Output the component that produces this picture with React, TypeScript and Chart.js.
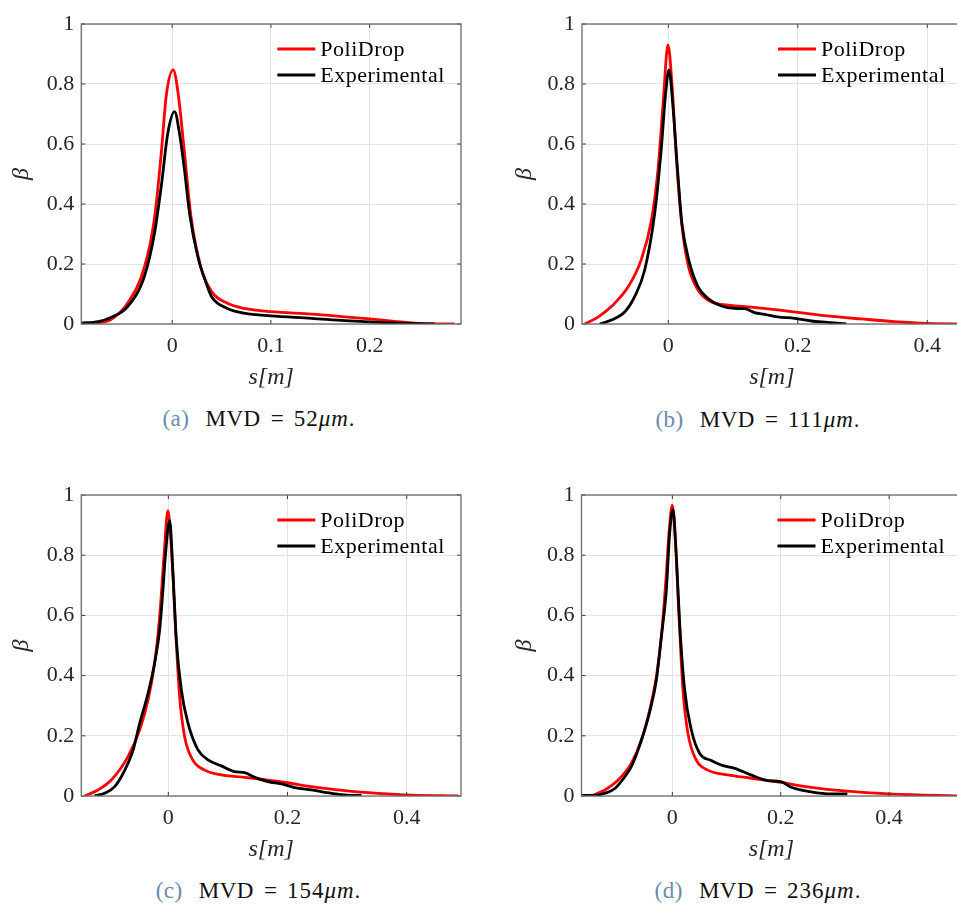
import React, { useEffect, useRef } from "react";
import { Chart, registerables } from "chart.js";

Chart.register(...registerables);

// ---------------- Data ----------------
// Panel (a) MVD = 52 µm
const polidropA_s = [-0.087, -0.075, -0.062, -0.045, -0.028, -0.018, -0.011, -0.006, 0.001, 0.006, 0.0125, 0.019, 0.029, 0.04, 0.056, 0.073, 0.1, 0.141, 0.175, 0.2, 0.225, 0.249, 0.286];
const polidropA_beta = [0, 0.004, 0.015, 0.07, 0.19, 0.35, 0.57, 0.76, 0.847, 0.77, 0.57, 0.36, 0.19, 0.108, 0.069, 0.052, 0.041, 0.033, 0.024, 0.017, 0.009, 0.002, 0];
const experimentalA_s = [-0.092, -0.075, -0.062, -0.045, -0.028, -0.018, -0.011, -0.0044, 0.0024, 0.0074, 0.0125, 0.0176, 0.026, 0.0345, 0.04, 0.056, 0.073, 0.1, 0.141, 0.175, 0.208, 0.242, 0.266];
const experimentalA_beta = [0.003, 0.008, 0.022, 0.058, 0.16, 0.3, 0.46, 0.636, 0.708, 0.636, 0.513, 0.369, 0.224, 0.136, 0.091, 0.052, 0.036, 0.027, 0.019, 0.011, 0.0056, 0.002, 0];

// Panel (b) MVD = 111 µm
const polidropB_s = [-0.129, -0.108, -0.088, -0.062, -0.042, -0.026, -0.016, -0.008, -0.0005, 0.006, 0.012, 0.02, 0.03, 0.046, 0.066, 0.092, 0.128, 0.169, 0.2, 0.246, 0.298, 0.349, 0.4, 0.46];
const polidropB_beta = [0, 0.024, 0.058, 0.124, 0.213, 0.347, 0.513, 0.736, 0.93, 0.79, 0.569, 0.347, 0.202, 0.113, 0.074, 0.063, 0.056, 0.047, 0.039, 0.027, 0.017, 0.008, 0.002, 0];
const experimentalB_s = [-0.106, -0.088, -0.067, -0.052, -0.0365, -0.021, -0.011, -0.0046, 0.001, 0.0072, 0.0139, 0.021, 0.033, 0.046, 0.061, 0.082, 0.102, 0.118, 0.133, 0.149, 0.169, 0.195, 0.221, 0.246, 0.275];
const experimentalB_beta = [0, 0.013, 0.041, 0.091, 0.18, 0.369, 0.58, 0.758, 0.847, 0.724, 0.524, 0.336, 0.202, 0.124, 0.086, 0.06, 0.052, 0.051, 0.038, 0.032, 0.024, 0.019, 0.01, 0.0056, 0];

// Panel (c) MVD = 154 µm
const polidropC_s = [-0.14, -0.118, -0.0957, -0.0677, -0.048, -0.034, -0.023, -0.0145, -0.0073, -0.0006, 0.006, 0.0123, 0.019, 0.0274, 0.041, 0.061, 0.089, 0.128, 0.167, 0.2, 0.24, 0.296, 0.352, 0.408, 0.486];
const polidropC_beta = [0, 0.02, 0.053, 0.131, 0.22, 0.319, 0.441, 0.596, 0.796, 0.948, 0.796, 0.552, 0.33, 0.197, 0.12, 0.086, 0.07, 0.062, 0.053, 0.044, 0.031, 0.018, 0.009, 0.003, 0];
const experimentalC_s = [-0.124, -0.107, -0.09, -0.073, -0.059, -0.048, -0.034, -0.023, -0.0145, -0.009, -0.005, 0.0022, 0.0078, 0.0134, 0.0218, 0.033, 0.0498, 0.0666, 0.089, 0.111, 0.128, 0.145, 0.167, 0.19, 0.212, 0.24, 0.274, 0.307, 0.324];
const experimentalC_beta = [0, 0.009, 0.031, 0.086, 0.153, 0.242, 0.341, 0.441, 0.552, 0.685, 0.796, 0.916, 0.74, 0.519, 0.353, 0.242, 0.153, 0.12, 0.1, 0.081, 0.078, 0.062, 0.048, 0.04, 0.028, 0.02, 0.009, 0.002, 0.002];

// Panel (d) MVD = 236 µm
const polidropD_s = [-0.149, -0.1245, -0.1, -0.0755, -0.057, -0.0417, -0.0294, -0.0202, -0.0123, -0.0061, 0, 0.0055, 0.0117, 0.0196, 0.0288, 0.044, 0.0656, 0.102, 0.145, 0.2, 0.256, 0.317, 0.4, 0.54];
const polidropD_beta = [0, 0.02, 0.053, 0.109, 0.186, 0.286, 0.397, 0.53, 0.707, 0.874, 0.966, 0.851, 0.619, 0.353, 0.208, 0.12, 0.086, 0.07, 0.059, 0.045, 0.029, 0.017, 0.007, 0];
const experimentalD_s = [-0.167, -0.143, -0.1245, -0.106, -0.0877, -0.0755, -0.057, -0.0417, -0.0294, -0.0202, -0.011, -0.0049, 0.0012, 0.0074, 0.0135, 0.0227, 0.035, 0.0503, 0.0718, 0.09, 0.115, 0.145, 0.176, 0.2, 0.219, 0.256, 0.293, 0.323];
const experimentalD_beta = [0.002, 0.002, 0.009, 0.025, 0.064, 0.098, 0.186, 0.28, 0.386, 0.53, 0.685, 0.874, 0.951, 0.796, 0.574, 0.353, 0.22, 0.142, 0.118, 0.103, 0.092, 0.07, 0.051, 0.048, 0.029, 0.014, 0.007, 0.007];

const seriesLabels = ["PoliDrop", "Experimental"];
const panelLetters = ["(a)", "(b)", "(c)", "(d)"];
const mvdValues = ["52", "111", "154", "236"];
const xLimits = [
  [-0.092, 0.2925],
  [-0.1333, 0.4531],
  [-0.146, 0.4911],
  [-0.1676, 0.533],
];
const xStepSizes = [0.1, 0.2, 0.2, 0.2];
const yTickStep = 0.2;

// ---------------- Styling / layout ----------------
const FONT = '"Liberation Serif", "Times New Roman", serif';
const RED = "#ff0000";
const BLACK = "#000000";
const TEXT = "#262626";
const GRID = "#e4e4e4";
const BOX = "#6a6a6a";
const PAD_TOP = 24;
const X_AXIS_H = 76;

type Layout = {
  left: number;
  top: number;
  canvasW: number;
  axisLeft: number;
  plotW: number;
  plotH: number;
  yTitlePad: number;
  capX: number;
  capBaseline: number;
};

const layouts: Layout[] = [
  { left: 0, top: 0, canvasW: 480, axisLeft: 81.3, plotW: 379.7, plotH: 300, yTitlePad: 7.6, capX: 259, capBaseline: 426 },
  { left: 480, top: 0, canvasW: 500, axisLeft: 102, plotW: 379.7, plotH: 300, yTitlePad: 30.6, capX: 758, capBaseline: 427 },
  { left: 0, top: 471, canvasW: 480, axisLeft: 81.3, plotW: 379.7, plotH: 301, yTitlePad: 7.6, capX: 258.5, capBaseline: 898 },
  { left: 480, top: 471, canvasW: 500, axisLeft: 101.5, plotW: 379.7, plotH: 301, yTitlePad: 30.6, capX: 758, capBaseline: 898 },
];

const seriesData = [
  [polidropA_s, polidropA_beta, experimentalA_s, experimentalA_beta],
  [polidropB_s, polidropB_beta, experimentalB_s, experimentalB_beta],
  [polidropC_s, polidropC_beta, experimentalC_s, experimentalC_beta],
  [polidropD_s, polidropD_beta, experimentalD_s, experimentalD_beta],
];

const fmt = (v: number | string) => `${+Number(v).toFixed(3)}`;

// Box, inward ticks and in-axes legend (MATLAB look)
const matlabPlugin = {
  id: "matlabBox",
  afterDraw(chart: any) {
    const { ctx, chartArea: a, scales } = chart;
    ctx.save();
    const tl = 4;
    ctx.strokeStyle = "#3a3a3a";
    ctx.lineWidth = 1;
    ctx.beginPath();
    scales.x.ticks.forEach((t: any) => {
      const px = scales.x.getPixelForValue(t.value);
      ctx.moveTo(px, a.bottom);
      ctx.lineTo(px, a.bottom - tl);
      ctx.moveTo(px, a.top);
      ctx.lineTo(px, a.top + tl);
    });
    scales.y.ticks.forEach((t: any) => {
      const py = scales.y.getPixelForValue(t.value);
      ctx.moveTo(a.left, py);
      ctx.lineTo(a.left + tl, py);
      ctx.moveTo(a.right, py);
      ctx.lineTo(a.right - tl, py);
    });
    ctx.stroke();

    ctx.strokeStyle = BOX;
    ctx.lineWidth = 1.3;
    ctx.strokeRect(a.left, a.top, a.right - a.left, a.bottom - a.top);

    // legend
    ctx.font = `22px ${FONT}`;
    try {
      ctx.letterSpacing = "0.5px";
    } catch (e) {}
    ctx.textBaseline = "middle";
    ctx.textAlign = "left";
    chart.data.datasets.forEach((ds: any, i: number) => {
      const y = a.top + 25 + i * 26;
      ctx.strokeStyle = ds.borderColor;
      ctx.lineWidth = 3;
      ctx.beginPath();
      ctx.moveTo(a.left + 196, y);
      ctx.lineTo(a.left + 234, y);
      ctx.stroke();
      ctx.fillStyle = "#000";
      ctx.fillText(ds.label, a.left + 239, y + 1);
    });
    ctx.restore();
  },
};

function PanelChart({ idx }: { idx: number }) {
  const ref = useRef<HTMLCanvasElement>(null);
  const L = layouts[idx];
  const canvasH = PAD_TOP + L.plotH + X_AXIS_H;

  useEffect(() => {
    const [ps, pb, es, eb] = seriesData[idx];
    const chart = new Chart(ref.current as HTMLCanvasElement, {
      type: "line",
      data: {
        datasets: [
          {
            label: seriesLabels[0],
            data: ps.map((s, i) => ({ x: s, y: pb[i] })),
            borderColor: RED,
            backgroundColor: RED,
            borderWidth: 2.8,
            pointRadius: 0,
            cubicInterpolationMode: "monotone",
            fill: false,
            order: 1,
          },
          {
            label: seriesLabels[1],
            data: es.map((s, i) => ({ x: s, y: eb[i] })),
            borderColor: BLACK,
            backgroundColor: BLACK,
            borderWidth: 2.8,
            pointRadius: 0,
            cubicInterpolationMode: "monotone",
            fill: false,
            order: 0,
          },
        ],
      },
      options: {
        animation: false,
        responsive: false,
        devicePixelRatio: 1,
        events: [],
        layout: {
          padding: { left: 0, top: PAD_TOP, right: L.canvasW - L.axisLeft - L.plotW, bottom: 0 },
        },
        plugins: {
          legend: { display: false },
          tooltip: { enabled: false },
          title: { display: false },
        },
        scales: {
          x: {
            type: "linear",
            min: xLimits[idx][0],
            max: xLimits[idx][1],
            afterFit: (s: any) => {
              s.height = X_AXIS_H;
            },
            ticks: {
              stepSize: xStepSizes[idx],
              includeBounds: false,
              maxRotation: 0,
              autoSkip: false,
              padding: 9.5,
              color: TEXT,
              font: { family: FONT, size: 22 },
              callback: (v: any) => fmt(v),
            },
            grid: { color: GRID, lineWidth: 1, drawTicks: false },
            border: { display: false },
            title: {
              display: true,
              text: "s[m]",
              color: TEXT,
              font: { family: FONT, size: 24, style: "italic" },
              padding: { top: 0, bottom: 7.6 },
            },
          },
          y: {
            type: "linear",
            min: 0,
            max: 1,
            afterFit: (s: any) => {
              s.width = L.axisLeft;
            },
            ticks: {
              stepSize: yTickStep,
              padding: 7,
              color: TEXT,
              font: { family: FONT, size: 22 },
              callback: (v: any) => fmt(v),
            },
            grid: { color: GRID, lineWidth: 1, drawTicks: false },
            border: { display: false },
            title: {
              display: true,
              text: "β",
              color: TEXT,
              font: { family: FONT, size: 24, style: "italic" },
              padding: { top: L.yTitlePad, bottom: 0 },
            },
          },
        },
      } as any,
      plugins: [matlabPlugin],
    });
    return () => chart.destroy();
  }, [idx]);

  return (
    <canvas
      ref={ref}
      width={L.canvasW}
      height={canvasH}
      style={{ position: "absolute", left: L.left, top: L.top, width: L.canvasW, height: canvasH }}
    />
  );
}

function Caption({ idx }: { idx: number }) {
  const L = layouts[idx];
  return (
    <div
      style={{
        position: "absolute",
        left: L.capX - 200,
        width: 400,
        top: L.capBaseline - 19.3,
        textAlign: "center",
        fontFamily: FONT,
        fontSize: 23,
        lineHeight: "23px",
        color: "#111",
        whiteSpace: "nowrap",
      }}
    >
      <span style={{ color: "#6a8cad", letterSpacing: 0.5 }}>{panelLetters[idx]}</span>
      <span style={{ marginLeft: 16, letterSpacing: 0.5 }}>MVD</span>
      <span style={{ margin: "0 10px" }}>=</span>
      <span style={{ letterSpacing: 1 }}>
        {mvdValues[idx]}
        <i>μm</i>.
      </span>
    </div>
  );
}

export default function App() {
  return (
    <div
      style={{
        position: "absolute",
        left: 0,
        top: 0,
        width: 957,
        height: 909,
        overflow: "hidden",
        background: "#ffffff",
      }}
    >
      {[0, 1, 2, 3].map((i) => (
        <PanelChart key={`c${i}`} idx={i} />
      ))}
      {[0, 1, 2, 3].map((i) => (
        <Caption key={`t${i}`} idx={i} />
      ))}
    </div>
  );
}
